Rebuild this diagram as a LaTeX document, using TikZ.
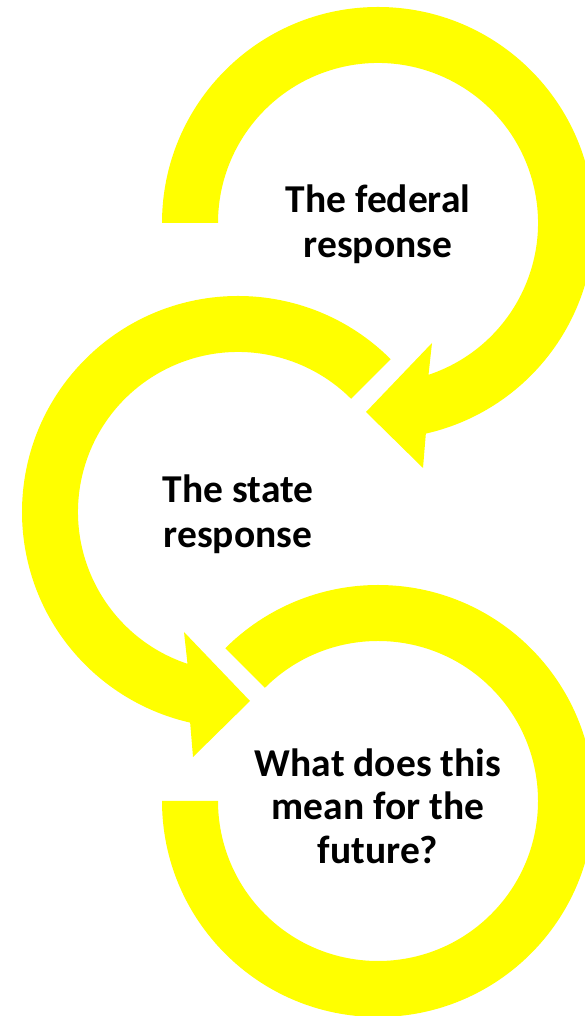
\documentclass[tikz,border=0pt]{standalone}
\usepackage{fontspec}
\setmainfont{Carlito}
\usetikzlibrary{calc}
\definecolor{ringyellow}{RGB}{255,255,0}
\begin{document}
\begin{tikzpicture}[x=1pt,y=1pt,
  ring/.style={fill=ringyellow, draw=none},
  ringtext/.style={align=center, font=\bfseries\fontsize{39.5}{45}\selectfont, inner sep=0pt, text=black}]
\useasboundingbox (0,0) rectangle (585,1016);
\clip (0,0) rectangle (585,1016);
\coordinate (c1) at (378,793);
\coordinate (c2) at (238,504);
\coordinate (c3) at (378,215);
% ring 1 (top), arrowhead at lower left
\fill[ring] ($(c1)+(180:216)$) arc[start angle=180, end angle=-77.2, radius=216pt]
  -- (423,548) -- (366,604) -- (432,673) -- ($(c1)+(-71.6:160)$)
  arc[start angle=-71.6, end angle=180, radius=160pt] -- cycle;
% ring 2 (middle), arrowhead at lower right
\fill[ring] ($(c2)+(45:216)$) arc[start angle=45, end angle=257.2, radius=216pt]
  -- (193,259) -- (250,315) -- (184,384) -- ($(c2)+(251.6:160)$)
  arc[start angle=251.6, end angle=45, radius=160pt] -- cycle;
% ring 3 (bottom)
\fill[ring] ($(c3)+(180:216)$) arc[start angle=180, end angle=495, radius=216pt]
  -- ($(c3)+(495:160)$) arc[start angle=495, end angle=180, radius=160pt] -- cycle;
\node[ringtext] (t1) at (378,792) {The federal\\response};
\node[ringtext] (t2) at (238,502) {The state\\response};
\node[ringtext, font=\bfseries\fontsize{39.5}{43.5}\selectfont] (t3) at (378,210) {What does this\\mean for the\\future?};
\end{tikzpicture}
\end{document}
